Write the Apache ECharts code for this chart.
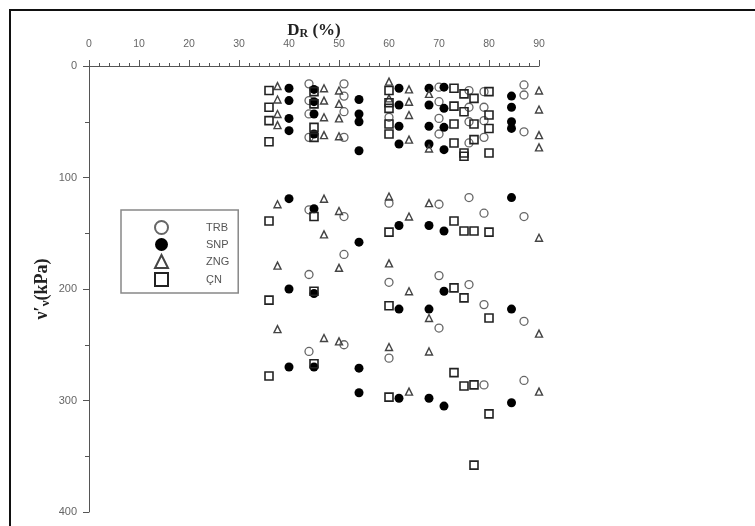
<!DOCTYPE html>
<html>
<head>
<meta charset="utf-8">
<script src="https://cdn.jsdelivr.net/npm/echarts@6/dist/echarts.min.js"></script>
<style>
  html, body { margin: 0; padding: 0; background: #fff; }
  #chart { width: 755px; height: 526px; }
</style>
</head>
<body>
<div id="chart"></div>
<script>
// [DR (%), stress (kPa)]
const trb = [
  [44, 16], [44, 31], [44, 43], [44, 64], [51, 16], [51, 27], [51, 41], [51, 64],
  [60, 46], [70, 19], [70, 32], [70, 47], [70, 61], [76, 22], [76, 37], [76, 50],
  [76, 69], [79, 23], [79, 37], [79, 49], [79, 64], [87, 17], [87, 26], [87, 59],
  [44, 129], [51, 135], [51, 169], [44, 187], [60, 123], [70, 124], [76, 118],
  [79, 132], [87, 135], [60, 194], [70, 188], [76, 196], [79, 214], [87, 229],
  [70, 235], [51, 250], [44, 256], [60, 262], [87, 282], [79, 286]
];
const snp = [
  [40, 20], [40, 31], [40, 47], [40, 58], [45, 21], [45, 32], [45, 43], [45, 61],
  [54, 30], [54, 43], [54, 50], [54, 76], [62, 20], [62, 35], [62, 54], [62, 70],
  [68, 20], [68, 35], [68, 54], [68, 70], [71, 19], [71, 38], [71, 55], [71, 75],
  [84.5, 27], [84.5, 37], [84.5, 50], [84.5, 56],
  [40, 119], [45, 128], [54, 158], [40, 200], [45, 204], [62, 143], [68, 143],
  [71, 148], [84.5, 118], [71, 202], [62, 218], [68, 218], [84.5, 218],
  [40, 270], [45, 270], [54, 271], [54, 293], [62, 298], [68, 298], [71, 305], [84.5, 302]
];
const zng = [
  [37.7, 18], [37.7, 30], [37.7, 43], [37.7, 53], [47, 20], [47, 31], [47, 46], [47, 62],
  [50, 22], [50, 34], [50, 47], [50, 63], [60, 14], [60, 29], [64, 21], [64, 32],
  [64, 44], [64, 66], [68, 25], [68, 74], [90, 22], [90, 39], [90, 62], [90, 73],
  [37.7, 124], [47, 119], [50, 130], [47, 151], [37.7, 179], [50, 181], [37.7, 236],
  [60, 117], [68, 123], [64, 135], [90, 154], [60, 177], [64, 202], [68, 226], [90, 240],
  [47, 244], [50, 247], [60, 252], [68, 256], [64, 292], [90, 292]
];
const cn = [
  [36, 22], [36, 37], [36, 49], [36, 68], [45, 23], [45, 34], [45, 55], [45, 64],
  [60, 22], [60, 33], [60, 38], [60, 52], [60, 61], [73, 20], [73, 36], [73, 52],
  [73, 69], [75, 25], [75, 41], [75, 78], [75, 81], [77, 29], [77, 52], [77, 66],
  [80, 23], [80, 44], [80, 56], [80, 78],
  [36, 139], [45, 135], [36, 210], [45, 202], [73, 139], [60, 149], [75, 148],
  [77, 148], [80, 149], [73, 199], [75, 208], [60, 215], [80, 226],
  [45, 267], [36, 278], [73, 275], [75, 287], [77, 286], [60, 297], [80, 312], [77, 358]
];
const seriesNames = ['TRB', 'SNP', 'ZNG', 'ÇN'];

const narrow = '"Liberation Sans Narrow", "Liberation Sans", Arial, sans-serif';
const serif = '"Liberation Serif", "DejaVu Serif", serif';
const axisGray = '#555';

const chart = echarts.init(document.getElementById('chart'));

const option = {
  backgroundColor: '#fff',
  animation: false,
  graphic: [{
    type: 'rect',
    shape: { x: 10, y: 10, width: 800, height: 600 },
    style: { fill: 'none', stroke: '#111', lineWidth: 2 }
  }],
  legend: {
    orient: 'vertical',
    left: 121,
    top: 210,
    data: seriesNames,
    padding: [10, 9, 6, 33],
    itemGap: 3,
    itemWidth: 13,
    itemHeight: 13,
    borderColor: '#888',
    borderWidth: 1.5,
    textStyle: {
      fontFamily: narrow,
      fontSize: 11,
      color: '#555',
      padding: [0, 0, 0, 33]
    }
  },
  grid: {
    left: 89,
    right: 216,
    top: 66,
    bottom: 14
  },
  xAxis: {
    type: 'value',
    position: 'top',
    min: 0,
    max: 90,
    interval: 10,
    name: '{a|D}{b|R}{a| (%)}',
    nameLocation: 'middle',
    nameGap: 26,
    nameMoveOverlap: false,
    nameTextStyle: {
      rich: {
        a: { fontFamily: serif, fontWeight: 'bold', fontSize: 17, color: '#222' },
        b: { fontFamily: serif, fontWeight: 'bold', fontSize: 12, color: '#222', padding: [7, 0, 0, 0] }
      }
    },
    axisLine: { show: true, onZero: false, lineStyle: { color: axisGray, width: 1 } },
    axisTick: { show: true, inside: false, length: 6, lineStyle: { color: axisGray } },
    minorTick: { show: true, splitNumber: 5, length: 3, lineStyle: { color: axisGray } },
    axisLabel: { fontFamily: narrow, fontSize: 10.5, color: '#666', margin: 16 },
    splitLine: { show: false }
  },
  yAxis: {
    type: 'value',
    inverse: true,
    min: 0,
    max: 400,
    interval: 100,
    name: '{a|ν′}{s|ν}{a|(kPa)}',
    nameLocation: 'middle',
    nameGap: 37,
    nameMoveOverlap: false,
    nameRotate: 90,
    nameTextStyle: {
      rich: {
        a: { fontFamily: serif, fontWeight: 'bold', fontSize: 18, color: '#222' },
        s: { fontFamily: serif, fontWeight: 'bold', fontSize: 13, color: '#222', padding: [7, 0, 0, 0] }
      }
    },
    axisLine: { show: true, onZero: false, lineStyle: { color: axisGray, width: 1 } },
    axisTick: { show: true, inside: false, length: 6, lineStyle: { color: axisGray } },
    minorTick: { show: true, splitNumber: 2, length: 4, lineStyle: { color: axisGray } },
    axisLabel: { fontFamily: narrow, fontSize: 11, color: '#666', margin: 12 },
    splitLine: { show: false }
  },
  series: [
    {
      name: 'TRB',
      type: 'scatter',
      symbol: 'circle',
      symbolSize: 8,
      data: trb,
      itemStyle: { color: 'rgba(255,255,255,0)', borderColor: '#666', borderWidth: 1.3, opacity: 1 }
    },
    {
      name: 'SNP',
      type: 'scatter',
      symbol: 'circle',
      symbolSize: 9,
      data: snp,
      itemStyle: { color: '#000', borderColor: '#000', borderWidth: 0, opacity: 1 }
    },
    {
      name: 'ZNG',
      type: 'scatter',
      symbol: 'triangle',
      symbolSize: 7,
      data: zng,
      itemStyle: { color: 'rgba(255,255,255,0)', borderColor: '#444', borderWidth: 1.4, opacity: 1 }
    },
    {
      name: 'ÇN',
      type: 'scatter',
      symbol: 'rect',
      symbolSize: 8,
      data: cn,
      itemStyle: { color: 'rgba(255,255,255,0)', borderColor: '#222', borderWidth: 1.6, opacity: 1 }
    }
  ]
};

chart.setOption(option);
</script>
</body>
</html>
